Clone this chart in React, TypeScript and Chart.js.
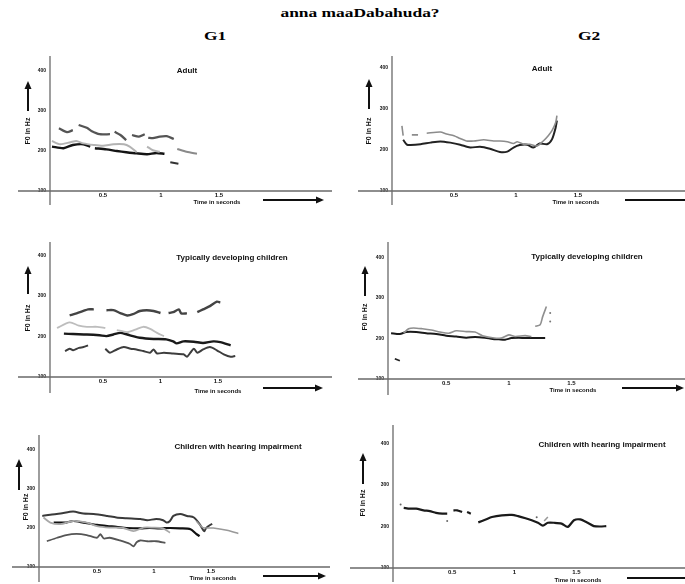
import React, { useEffect, useRef } from "react";
import { Chart, registerables } from "chart.js";
Chart.register(...registerables);

type Pt = [number, number] | null;

// ---------- axis ticks & texts ----------
const Y_TICKS = [100, 200, 300, 400];
const X_TICKS = [0.5, 1, 1.5];
const X_TICK_LABELS = ["0.5", "1", "1.5"];
const MAIN_TITLE = "anna maaDabahuda?";
const GROUP_LABELS = ["G1", "G2"];
const TIME_LABEL = "Time in seconds";
const F0_LABEL = "F0 in Hz";
const PANEL_TITLES = ["Adult", "Adult", "Typically developing children", "Typically developing children", "Children with hearing impairment", "Children with hearing impairment"];

// ---------- data: [time (s), F0 (Hz)], null = gap ----------
// G1 – Adult
const G1_ADULT_TOP: Pt[] = [[0.12, 257], [0.19, 247], [0.24, 252], null, [0.29, 265], [0.36, 258], [0.4, 250], [0.47, 242], [0.56, 242], null, [0.6, 248], [0.65, 240], [0.7, 227], null, [0.75, 240], [0.81, 236], [0.86, 242], null, [0.89, 233], [0.93, 232], [0.99, 236], [1.05, 237], [1.11, 230]];
const G1_ADULT_LIGHT: Pt[] = [[0.06, 225], [0.13, 217], [0.22, 222], [0.27, 225], [0.33, 219], [0.42, 215], [0.5, 213], [0.59, 217], [0.68, 217], [0.73, 211], [0.79, 197], null, [0.88, 211], [0.93, 202], [0.99, 198]];
const G1_ADULT_TAIL: Pt[] = [[1.14, 205], [1.22, 198], [1.31, 193]];
const G1_ADULT_BLACK: Pt[] = [[0.06, 211], [0.16, 207], [0.24, 215], [0.33, 217], [0.39, 211], null, [0.43, 207], [0.53, 204], [0.62, 200], [0.7, 197], [0.79, 194], [0.88, 192], [0.96, 195], [1.03, 193]];
const G1_ADULT_SHORT: Pt[] = [[1.08, 172], [1.15, 168]];

// G2 – Adult
const G2_ADULT_GREY: Pt[] = [[0.08, 259], [0.09, 235], null, [0.16, 237], [0.21, 237], null, [0.28, 241], [0.39, 244], [0.44, 239], [0.5, 235], [0.55, 228], [0.6, 222], [0.66, 222], [0.74, 225], [0.82, 222], [0.87, 222], [0.93, 220], [0.98, 216], [1.01, 220], [1.06, 214], [1.11, 214], [1.17, 210], [1.22, 222], [1.26, 235], [1.29, 247], [1.32, 267], [1.33, 284]];
const G2_ADULT_BLACK: Pt[] = [[0.09, 225], [0.12, 213], [0.15, 212], [0.23, 214], [0.31, 218], [0.39, 221], [0.47, 218], [0.55, 213], [0.63, 206], [0.71, 208], [0.79, 203], [0.87, 195], [0.93, 196], [0.98, 206], [1.03, 212], [1.09, 213], [1.14, 206], [1.19, 216], [1.25, 214], [1.29, 226], [1.32, 255], [1.33, 272]];

// G1 – Typically developing children
const G1_TD_TOP: Pt[] = [[0.21, 252], [0.27, 257], [0.33, 263], [0.37, 267], [0.42, 267], null, [0.53, 265], [0.59, 265], [0.65, 258], [0.71, 252], [0.76, 255], [0.82, 263], [0.88, 265], [0.94, 263], [1.0, 258], null, [1.07, 258], [1.11, 260], [1.16, 267], [1.18, 257], [1.23, 257], null, [1.32, 260], [1.37, 267], [1.43, 275], [1.49, 286], [1.52, 284]];
const G1_TD_LIGHT: Pt[] = [[0.1, 221], [0.21, 235], [0.29, 227], [0.36, 224], [0.45, 224], [0.52, 221], null, [0.62, 216], [0.71, 211], [0.78, 217], [0.85, 224], [0.91, 219], [0.97, 209], [1.03, 201]];
const G1_TD_BLACK: Pt[] = [[0.16, 207], [0.24, 206], [0.36, 205], [0.47, 203], [0.53, 201], [0.59, 205], [0.65, 209], [0.71, 205], [0.76, 201], [0.82, 197], [0.94, 194], [1.05, 193], [1.11, 188], [1.14, 183], [1.2, 188], [1.29, 187], [1.37, 184], [1.46, 188], [1.52, 186], [1.61, 178]];
const G1_TD_LOW: Pt[] = [[0.17, 164], [0.21, 170], [0.24, 166], [0.29, 172], [0.33, 174], [0.37, 178], null, [0.52, 170], [0.56, 160], [0.62, 168], [0.68, 174], [0.74, 170], [0.79, 168], [0.85, 164], [0.91, 160], [0.94, 168], [0.97, 158], [1.03, 160], [1.11, 158], [1.2, 156], [1.23, 150], [1.26, 160], [1.29, 170], [1.32, 160], [1.37, 168], [1.43, 174], [1.49, 166], [1.55, 156], [1.61, 150], [1.65, 152]];

// G2 – Typically developing children
const G2_TD_BLACK: Pt[] = [[0.06, 213], [0.13, 211], [0.18, 216], [0.26, 216], [0.34, 213], [0.42, 211], [0.5, 207], [0.58, 205], [0.66, 202], [0.73, 204], [0.81, 202], [0.87, 199], [0.92, 198], [0.97, 197], [1.02, 201], [1.08, 202], [1.13, 201], [1.21, 201], [1.29, 201]];
const G2_TD_SHORT: Pt[] = [[0.09, 150], [0.13, 145]];
const G2_TD_GREY: Pt[] = [[0.16, 213], [0.2, 224], [0.24, 226], [0.31, 224], [0.38, 221], [0.45, 216], [0.52, 213], [0.58, 219], [0.66, 217], [0.73, 216], [0.79, 207], [0.87, 202], [0.94, 201], [1.0, 209], [1.05, 205], [1.13, 207], [1.18, 205], null, [1.21, 230], [1.25, 234], [1.27, 254], [1.3, 279]];
const G2_TD_DOTS: Pt[] = [[1.33, 263], [1.33, 242]];

// G1 – Children with hearing impairment
const G1_HI_TOP: Pt[] = [[0.02, 231], [0.09, 234], [0.18, 237], [0.29, 242], [0.38, 237], [0.47, 236], [0.59, 231], [0.67, 227], [0.76, 225], [0.88, 223], [0.94, 220], [1.02, 223], [1.08, 220], [1.11, 214], [1.14, 218], [1.17, 231], [1.23, 236], [1.29, 231], [1.35, 227], [1.4, 210], [1.44, 192], [1.46, 201], [1.51, 211]];
const G1_HI_LIGHT: Pt[] = [[0.03, 227], [0.09, 214], [0.18, 210], [0.29, 218], [0.41, 214], [0.5, 205], [0.61, 201], [0.73, 200], [0.82, 192], [0.91, 201], [0.99, 201], [1.08, 199], [1.14, 188]];
const G1_HI_TAIL: Pt[] = [[1.37, 218], [1.43, 201], [1.52, 200], [1.64, 194], [1.74, 186]];
const G1_HI_BLACK: Pt[] = [[0.12, 214], [0.23, 214], [0.29, 218], [0.38, 214], [0.5, 208], [0.59, 205], [0.67, 203], [0.76, 200], [0.88, 199], [0.96, 200], [1.05, 199], [1.14, 200], [1.23, 199], [1.32, 197], [1.37, 185], [1.4, 179]];
const G1_HI_LOW: Pt[] = [[0.06, 166], [0.15, 175], [0.23, 182], [0.32, 185], [0.41, 182], [0.5, 175], [0.53, 184], [0.56, 173], [0.61, 175], [0.7, 168], [0.79, 159], [0.82, 153], [0.85, 164], [0.88, 168], [0.94, 166], [1.02, 166], [1.1, 162]];

// G2 – Children with hearing impairment
const G2_HI_BLACK: Pt[] = [[0.11, 245], [0.16, 243], [0.21, 243], [0.27, 239], [0.32, 237], [0.37, 233], [0.42, 231], [0.46, 231], null, [0.51, 239], [0.54, 239], [0.58, 235], null, [0.62, 235], [0.65, 231], null, [0.71, 210], [0.77, 217], [0.82, 223], [0.9, 227], [0.98, 228], [1.03, 225], [1.09, 220], [1.14, 215], [1.19, 209], [1.23, 202], [1.27, 209], [1.32, 209], [1.38, 207], [1.43, 199], [1.48, 215], [1.53, 217], [1.59, 209], [1.64, 201], [1.69, 200], [1.74, 201]];
const G2_HI_HOOK: Pt[] = [[1.24, 213], [1.27, 223]];
const G2_HI_DOTS: Pt[] = [[0.085, 253], [0.46, 213], [1.18, 222]];

// ---------- helpers ----------
const toXY = (pts: Pt[]) => {
  let lastX = 0;
  return pts.map((p) => {
    if (!p) return { x: lastX + 0.001, y: null as any };
    lastX = p[0];
    return { x: p[0], y: p[1] };
  });
};

const line = (pts: Pt[], color: string, width: number) => ({
  data: toXY(pts),
  borderColor: color,
  backgroundColor: color,
  borderWidth: width,
  pointRadius: 0,
  tension: 0.25,
  spanGaps: false,
  fill: false,
});
const dots = (pts: Pt[], color: string, r: number) => ({
  data: toXY(pts),
  borderColor: color,
  backgroundColor: color,
  showLine: false,
  pointRadius: r,
  borderWidth: 0,
});

const W = 685;
const H = 584;
const Y_AXIS_W = 14;
const X_AXIS_H = 10;
const SANS = '"Liberation Sans", Arial, sans-serif';

// ---------- panels (layout in page pixels) ----------
const PANELS = [
  {
    geo: { ax: 50, bx: 191, ty: 56, rx: 332, x0: 45, xs: 116, ky: 0.4 },
    axisX: [18, 332], axisY: [56, 205], title: [187, 71], time: [217, 202], hArrow: [263, 324, 200], f0: [28, 131], vArrow: [28, 111, 81],
    datasets: [line(G1_ADULT_LIGHT, "#b3b3b3", 2), line(G1_ADULT_TOP, "#555", 2.3), line(G1_ADULT_BLACK, "#141414", 2.4), line(G1_ADULT_TAIL, "#8a8a8a", 2), line(G1_ADULT_SHORT, "#333", 2)],
  },
  {
    geo: { ax: 392, bx: 191, ty: 56, rx: 685, x0: 392, xs: 124, ky: 0.41 },
    axisX: [358, 685], axisY: [56, 205], title: [542, 69], time: [576, 202], hArrow: [625, 694, 200], f0: [369, 131], vArrow: [369, 109, 79],
    datasets: [line(G2_ADULT_GREY, "#8c8c8c", 1.6), line(G2_ADULT_BLACK, "#222", 2)],
  },
  {
    geo: { ax: 50, bx: 377, ty: 242, rx: 332, x0: 45.5, xs: 115, ky: 0.405 },
    axisX: [18, 332], axisY: [242, 393], title: [232, 258], time: [218, 391], hArrow: [263, 323, 388], f0: [28, 318], vArrow: [28, 294, 266],
    datasets: [line(G1_TD_LIGHT, "#bdbdbd", 1.8), line(G1_TD_TOP, "#444", 2.4), line(G1_TD_BLACK, "#1a1a1a", 2.4), line(G1_TD_LOW, "#3d3d3d", 2)],
  },
  {
    geo: { ax: 388, bx: 379, ty: 242, rx: 685, x0: 383.5, xs: 127, ky: 0.405 },
    axisX: [358, 685], axisY: [242, 395], title: [587, 257], time: [573, 390], hArrow: [622, 684, 388], f0: [365, 317], vArrow: [365, 296, 266],
    datasets: [line(G2_TD_GREY, "#8f8f8f", 1.6), line(G2_TD_BLACK, "#1a1a1a", 2), line(G2_TD_SHORT, "#222", 1.8), dots(G2_TD_DOTS, "#777", 1)],
  },
  {
    geo: { ax: 39, bx: 567, ty: 435, rx: 330, x0: 40, xs: 114, ky: 0.39 },
    axisX: [12, 330], axisY: [435, 582], title: [238, 447], time: [213, 578], hArrow: [263, 326, 576], f0: [26, 507], vArrow: [19, 490, 459],
    datasets: [line(G1_HI_LIGHT, "#a8a8a8", 1.8), line(G1_HI_TAIL, "#999", 1.5), line(G1_HI_TOP, "#3a3a3a", 2), line(G1_HI_BLACK, "#111", 2.2), line(G1_HI_LOW, "#555", 1.8)],
  },
  {
    geo: { ax: 393, bx: 568, ty: 425, rx: 685, x0: 390, xs: 126, ky: 0.415 },
    axisX: [350, 685], axisY: [425, 582], title: [602, 445], time: [578, 580], hArrow: [627, 694, 578], f0: [363, 503], vArrow: [363, 484, 453],
    datasets: [line(G2_HI_BLACK, "#1a1a1a", 2.2), line(G2_HI_HOOK, "#999", 1.5), dots(G2_HI_DOTS, "#666", 1)],
  },
];

const annotPlugin = {
  id: "annot",
  beforeDatasetsDraw(chart: any, _a: any, o: any) {
    const ctx = chart.ctx;
    const ca = chart.chartArea;
    ctx.save();
    ctx.strokeStyle = "#6a6a6a";
    ctx.lineWidth = 1.3;
    ctx.beginPath();
    ctx.moveTo(o.axisX[0], ca.bottom);
    ctx.lineTo(o.axisX[1], ca.bottom);
    ctx.moveTo(ca.left, o.axisY[0]);
    ctx.lineTo(ca.left, o.axisY[1]);
    ctx.stroke();
    ctx.restore();
  },
  afterDraw(chart: any, _a: any, o: any) {
    const ctx = chart.ctx;
    ctx.save();
    ctx.fillStyle = "#111";
    ctx.strokeStyle = "#111";
    ctx.textAlign = "center";
    ctx.textBaseline = "middle";
    ctx.font = `bold 8px ${SANS}`;
    ctx.fillText(o.titleText, o.title[0], o.title[1]);
    ctx.font = `bold 6px ${SANS}`;
    ctx.fillText(TIME_LABEL, o.time[0], o.time[1]);
    // horizontal arrow
    const [x1, x2, y] = o.hArrow;
    ctx.lineWidth = 2.2;
    ctx.beginPath();
    ctx.moveTo(x1, y);
    ctx.lineTo(x2 - 6, y);
    ctx.stroke();
    ctx.beginPath();
    ctx.moveTo(x2, y);
    ctx.lineTo(x2 - 8, y - 3.5);
    ctx.lineTo(x2 - 8, y + 3.5);
    ctx.closePath();
    ctx.fill();
    // F0 label
    ctx.save();
    ctx.translate(o.f0[0], o.f0[1]);
    ctx.rotate(-Math.PI / 2);
    ctx.font = `bold 7px ${SANS}`;
    ctx.fillText(F0_LABEL, 0, 0);
    ctx.restore();
    // vertical arrow
    const [vx, vy1, vy2] = o.vArrow;
    ctx.lineWidth = 2;
    ctx.beginPath();
    ctx.moveTo(vx, vy1);
    ctx.lineTo(vx, vy2 + 6);
    ctx.stroke();
    ctx.beginPath();
    ctx.moveTo(vx, vy2);
    ctx.lineTo(vx - 3.5, vy2 + 8);
    ctx.lineTo(vx + 3.5, vy2 + 8);
    ctx.closePath();
    ctx.fill();
    ctx.restore();
  },
};

function makeConfig(p: any, idx: number): any {
  const { ax, bx, ty, rx, x0, xs, ky } = p.geo;
  const xmin = (ax - x0) / xs;
  const xmax = (rx - x0) / xs;
  const ymax = 100 + (bx - ty) / ky;
  return {
    type: "line",
    data: { datasets: p.datasets },
    plugins: [annotPlugin],
    options: {
      responsive: false,
      animation: false,
      events: [],
      layout: { padding: { left: ax - Y_AXIS_W, right: W - rx, top: ty, bottom: H - bx - X_AXIS_H } },
      plugins: {
        legend: { display: false },
        title: { display: false },
        tooltip: { enabled: false },
        annot: { ...p, datasets: undefined, titleText: PANEL_TITLES[idx] },
      },
      scales: {
        x: {
          type: "linear",
          min: xmin,
          max: xmax,
          grid: { display: false, drawTicks: false },
          border: { display: false },
          afterBuildTicks: (axis: any) => {
            axis.ticks = X_TICKS.map((v) => ({ value: v }));
          },
          afterFit: (axis: any) => {
            axis.height = X_AXIS_H;
          },
          ticks: {
            autoSkip: false,
            maxRotation: 0,
            padding: 1,
            color: "#111",
            font: { size: 6, weight: "bold", family: SANS },
            callback: (v: number) => {
              const i = X_TICKS.indexOf(v);
              return i >= 0 ? X_TICK_LABELS[i] : "";
            },
          },
        },
        y: {
          type: "linear",
          min: 100,
          max: ymax,
          grid: { display: false, drawTicks: false },
          border: { display: false },
          afterBuildTicks: (axis: any) => {
            axis.ticks = Y_TICKS.map((v) => ({ value: v }));
          },
          afterFit: (axis: any) => {
            axis.width = Y_AXIS_W;
          },
          ticks: {
            autoSkip: false,
            padding: 4,
            color: "#111",
            font: { size: 5, weight: "bold", family: SANS },
            callback: (v: number) => String(v),
          },
        },
      },
    },
  };
}

const headStyle = (cx: number, cy: number): React.CSSProperties => ({
  position: "absolute",
  left: cx,
  top: cy,
  transform: "translate(-50%, -50%) scaleX(1.45)",
  fontFamily: '"Liberation Serif", "Times New Roman", serif',
  fontWeight: "bold",
  fontSize: 12,
  lineHeight: 1,
  whiteSpace: "nowrap",
  color: "#000",
});

export default function App() {
  const refs = useRef<(HTMLCanvasElement | null)[]>([]);
  useEffect(() => {
    const charts = PANELS.map((p, i) => new Chart(refs.current[i] as HTMLCanvasElement, makeConfig(p, i)));
    return () => charts.forEach((c) => c.destroy());
  }, []);
  return (
    <div style={{ position: "absolute", left: 0, top: 0, width: W, height: H, background: "#fff", overflow: "hidden" }}>
      <div style={headStyle(360, 13)}>{MAIN_TITLE}</div>
      <div style={headStyle(215, 36)}>{GROUP_LABELS[0]}</div>
      <div style={headStyle(589, 36)}>{GROUP_LABELS[1]}</div>
      {PANELS.map((_, i) => (
        <canvas
          key={i}
          ref={(el) => {
            refs.current[i] = el;
          }}
          width={W}
          height={H}
          style={{ position: "absolute", left: 0, top: 0, width: W, height: H }}
        />
      ))}
    </div>
  );
}
